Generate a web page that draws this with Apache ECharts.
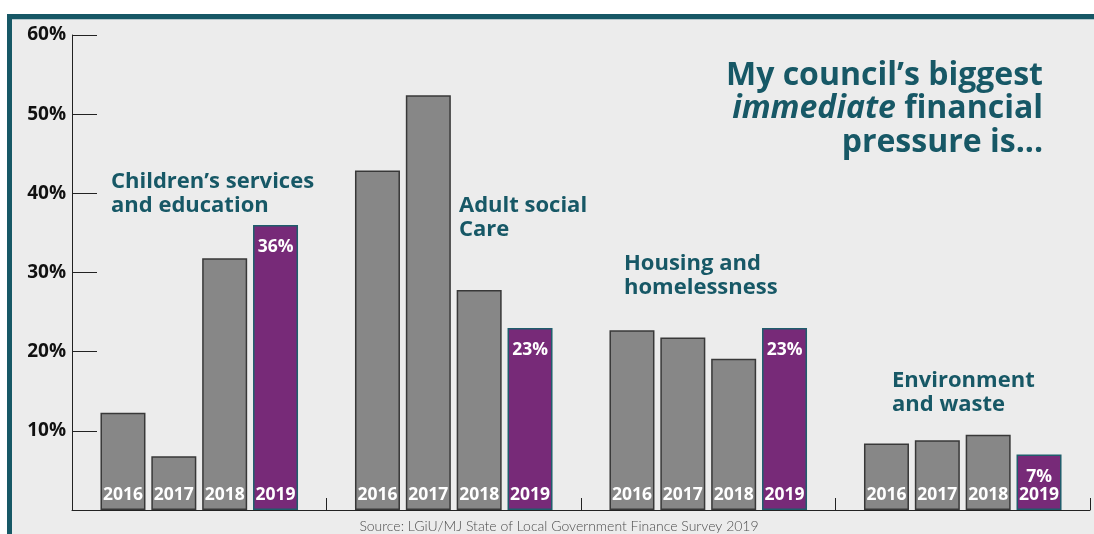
<!DOCTYPE html>
<html>
<head>
<meta charset="utf-8">
<script src="https://cdn.jsdelivr.net/npm/echarts@6/dist/echarts.min.js"></script>
<style>
  html, body { margin: 0; padding: 0; background: #ffffff; }
  #chart { width: 1094px; height: 534px; }
</style>
</head>
<body>
<div id="chart"></div>
<script>
// Share of councils naming each area as their biggest immediate financial pressure (%)
const categories = [
  'Children’s services\nand education',
  'Adult social\nCare',
  'Housing and\nhomelessness',
  'Environment\nand waste'
];
const years = ['2016', '2017', '2018', '2019'];
const values2016 = [12.3, 42.9, 22.7, 8.4];
const values2017 = [6.8, 52.4, 21.8, 8.8];
const values2018 = [31.8, 27.8, 19.1, 9.5];
const values2019 = [36, 23, 23, 7];
const yMax = 60;
const yStep = 10;
const titleLines = ['My council’s biggest', '{i|immediate} financial', 'pressure is...'];
const sourceText = 'Source: LGiU/MJ State of Local Government Finance Survey 2019';

const FONT = '"Open Sans", Lato, sans-serif';
const LIGHT_FONT = 'Lato, "Open Sans", sans-serif';
const TEAL = '#175866';
const GREY = '#878787';
const PURPLE = '#772a78';

const seriesValues = [values2016, values2017, values2018, values2019];

// Top-left anchor of each group's heading
const headingPos = [[111, 169], [459, 193], [624, 251], [892, 368]];

const series = years.map((yr, k) => {
  const latest = k === years.length - 1;
  const s = {
    name: yr,
    type: 'bar',
    data: seriesValues[k],
    barWidth: 45,
    barGap: '13%',
    itemStyle: {
      color: latest ? PURPLE : GREY,
      borderColor: latest ? '#1f5d6c' : '#383838',
      borderWidth: 1.5
    },
    label: {
      show: true,
      position: 'insideBottom',
      distance: 6,
      formatter: yr,
      color: '#ffffff',
      fontFamily: FONT,
      fontWeight: 'bold',
      fontSize: 17.5
    }
  };
  if (latest) {
    s.markPoint = {
      symbol: 'circle',
      symbolSize: 0,
      silent: true,
      label: {
        show: true,
        position: 'bottom',
        distance: 13,
        formatter: p => p.value + '%',
        color: '#ffffff',
        fontFamily: FONT,
        fontWeight: 'bold',
        fontSize: 17.5
      },
      data: seriesValues[k].map((v, i) => ({ coord: [i, v], value: v }))
    };
  }
  return s;
});

const graphics = [
  { type: 'rect', z: -100, shape: { x: 7, y: 14, width: 1200, height: 600 }, style: { fill: TEAL } },
  { type: 'rect', z: -99, shape: { x: 12, y: 19, width: 1200, height: 600 }, style: { fill: '#ececec' } },
  { type: 'rect', z: -98, shape: { x: 12, y: 19, width: 1200, height: 1 }, style: { fill: '#b4c6cb' } },
  {
    type: 'text', z: 10,
    style: {
      x: 1043, y: 59,
      text: titleLines.join('\n'),
      textAlign: 'right',
      verticalAlign: 'top',
      fill: TEAL,
      font: 'bold 32px ' + FONT,
      lineHeight: 33.5,
      rich: {
        i: { fontStyle: 'italic', fontWeight: 'bold', fontSize: 32, fontFamily: FONT, fill: TEAL, lineHeight: 33.5 }
      }
    }
  },
  {
    type: 'text', z: 10,
    style: {
      x: 559, y: 526,
      text: sourceText,
      textAlign: 'center',
      verticalAlign: 'middle',
      fill: '#4d4d4d',
      font: '300 14px ' + LIGHT_FONT
    }
  }
];
categories.forEach((c, i) => {
  graphics.push({
    type: 'text', z: 10,
    style: {
      x: headingPos[i][0], y: headingPos[i][1],
      text: c,
      textAlign: 'left',
      verticalAlign: 'top',
      fill: TEAL,
      font: 'bold 22px ' + FONT,
      lineHeight: 24.5
    }
  });
});

const chart = echarts.init(document.getElementById('chart'));
chart.setOption({
  animation: false,
  backgroundColor: 'transparent',
  grid: { left: 72, right: 4, top: 35, bottom: 24, containLabel: false },
  xAxis: {
    type: 'category',
    data: categories,
    axisLine: { lineStyle: { color: '#222', width: 1 } },
    axisTick: { show: true, inside: true, length: 12, lineStyle: { color: '#222' } },
    axisLabel: { show: false }
  },
  yAxis: {
    type: 'value',
    min: 0,
    max: yMax,
    interval: yStep,
    splitLine: { show: false },
    axisLine: { show: true, lineStyle: { color: '#222', width: 1 } },
    axisTick: { show: true, inside: true, length: 25, lineStyle: { color: '#222' } },
    axisLabel: {
      margin: 6,
      color: '#111',
      fontFamily: FONT,
      fontWeight: 'bold',
      fontSize: 19,
      formatter: v => (v === 0 ? '' : v + '%')
    }
  },
  series: series,
  graphic: graphics
});
</script>
</body>
</html>
